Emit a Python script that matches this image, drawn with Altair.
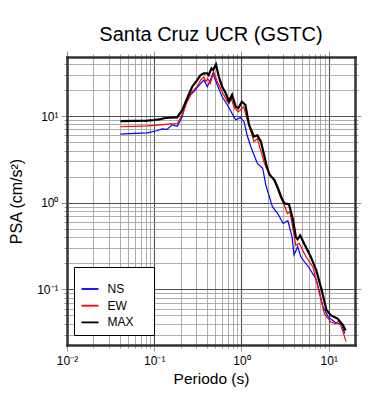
import altair as alt
import pandas as pd

SERIES = ["NS", "EW", "MAX"]
COLORS = ["#0000ff", "#ff0000", "#000000"]

NS_T = [0.041, 0.06, 0.083, 0.107, 0.123, 0.14, 0.16, 0.184, 0.209, 0.226, 0.26, 0.295, 0.34,
        0.37, 0.405, 0.44, 0.47, 0.53, 0.6, 0.69, 0.78, 0.86, 0.97, 1.07, 1.16, 1.28, 1.52,
        1.75, 1.9, 2.26, 2.6, 3.0, 3.4, 3.8, 4.0, 4.4, 4.8, 5.9, 7.2, 8.6, 9.9, 11.7, 14.0, 15.3]
NS_V = [6.2, 6.3, 6.4, 6.77, 7.1, 7.0, 7.9, 7.6, 9.8, 13.4, 17.5, 19.9, 23.8,
        26.0, 21.8, 26.0, 31.0, 22.7, 16.7, 13.4, 10.7, 9.0, 9.6, 8.6, 6.0, 4.43, 2.84,
        2.5, 1.6, 0.9, 0.75, 0.575, 0.62, 0.4, 0.25, 0.31, 0.236, 0.18, 0.13, 0.063, 0.048,
        0.042, 0.039, 0.031]

EW_T = [0.041, 0.083, 0.118, 0.154, 0.184, 0.209, 0.238, 0.272, 0.31, 0.34, 0.37, 0.39, 0.41,
        0.44, 0.48, 0.53, 0.6, 0.69, 0.75, 0.83, 0.92, 1.06, 1.17, 1.39, 1.52, 1.83, 2.1,
        2.38, 2.84, 3.1, 3.35, 3.6, 4.2, 4.6, 5.5, 6.6, 7.5, 8.9, 10.6, 12.0, 13.2, 15.8]
EW_V = [7.52, 7.7, 7.9, 8.1, 8.2, 10.3, 14.6, 19.1, 21.8, 26.0, 28.4, 24.9, 27.2,
        23.8, 32.4, 24.9, 19.1, 14.6, 16.7, 12.3, 11.2, 12.8, 9.0, 5.05, 5.5, 2.84, 2.09,
        1.83, 1.12, 0.94, 0.75, 0.78, 0.32, 0.34, 0.236, 0.18, 0.107, 0.0525, 0.042, 0.040,
        0.044, 0.0249]

MAX_T = [0.041, 0.06, 0.083, 0.1, 0.118, 0.134, 0.155, 0.183, 0.209, 0.238, 0.272, 0.31, 0.34,
         0.37, 0.405, 0.42, 0.453, 0.473, 0.51, 0.55, 0.6, 0.66, 0.72, 0.78, 0.86, 0.92, 1.01,
         1.11, 1.22, 1.39, 1.52, 1.67, 1.8, 1.95, 2.1, 2.38, 2.6, 2.84, 3.1, 3.5, 3.9, 4.2,
         4.4, 4.7, 5.2, 6.2, 7.2, 8.3, 9.4, 10.6, 12.6, 14.5, 15.6]
MAX_V = [8.75, 8.8, 8.85, 9.0, 9.2, 9.5, 9.6, 9.66, 11.7, 16.0, 21.8, 26.0, 29.7,
         31.1, 31.1, 29.7, 35.5, 34.0, 39.5, 28.4, 21.8, 18.3, 14.6, 17.5, 12.8, 12.3, 14.6,
         13.4, 7.9, 5.8, 6.0, 5.05, 3.7, 2.6, 2.1, 1.83, 1.5, 1.18, 0.98, 0.96, 0.63, 0.40,
         0.38, 0.42, 0.34, 0.24, 0.166, 0.098, 0.058, 0.05, 0.046, 0.039, 0.0336]

X_TICKS = [0.01, 0.02, 0.03, 0.04, 0.05, 0.06, 0.07, 0.08, 0.09,
           0.1, 0.2, 0.3, 0.4, 0.5, 0.6, 0.7, 0.8, 0.9,
           1, 2, 3, 4, 5, 6, 7, 8, 9, 10]
Y_TICKS = [0.03, 0.04, 0.05, 0.06, 0.07, 0.08, 0.09,
           0.1, 0.2, 0.3, 0.4, 0.5, 0.6, 0.7, 0.8, 0.9,
           1, 2, 3, 4, 5, 6, 7, 8, 9, 10, 20, 30, 40]
X_DECADES = [0.01, 0.1, 1, 10]
Y_DECADES = [0.1, 1, 10]

rows = []
for name, ts, vs in (("NS", NS_T, NS_V), ("EW", EW_T, EW_V), ("MAX", MAX_T, MAX_V)):
    for t, v in zip(ts, vs):
        rows.append({"series": name, "period": t, "psa": v})
df = pd.DataFrame(rows)

FONT = "Liberation Sans"
FRAME = "#333333"
xs = alt.Scale(type="log", domain=[0.01, 20], nice=False)
ys = alt.Scale(type="log", domain=[0.0228, 48], nice=False)

DEC = "abs(log(datum.value)/LN10 - round(log(datum.value)/LN10)) < 0.000001"


def cond(a, b):
    return {"condition": {"test": DEC, "value": a}, "value": b}


def ax(**kw):
    d = dict(grid=False, ticks=False, labels=False, domain=False, title=None)
    d.update(kw)
    return alt.Axis(**d)


LBL = ("datum.value < 0.05 ? '10\u207b\u00b2' : datum.value < 0.5 ? '10\u207b\u00b9' : "
       "datum.value < 5 ? '10\u2070' : '10\u00b9'")

LEGEND_SPACER = "\u2060" + "\u00a0" * 40 + "\u2060"

base = alt.Chart(df)

grid_layer = base.mark_line(strokeOpacity=0).encode(
    x=alt.X("period:Q", scale=xs, axis=ax(orient="bottom", grid=True, values=X_TICKS[1:],
                                          gridColor=cond("#505050", "#999999"),
                                          gridWidth=cond(1.1, 0.8))),
    y=alt.Y("psa:Q", scale=ys, axis=ax(orient="left", grid=True, values=Y_TICKS,
                                       gridColor=cond("#505050", "#999999"),
                                       gridWidth=cond(1.1, 0.8))),
    detail="series:N",
)

color_enc = alt.Color(
    "series:N",
    scale=alt.Scale(domain=SERIES, range=COLORS),
    legend=alt.Legend(
        title=LEGEND_SPACER, titleFontSize=6, titlePadding=0, titleFont=FONT,
        orient="none", legendX=7, legendY=210, padding=6.5,
        symbolType="stroke", symbolSize=289, symbolStrokeWidth=1.8,
        labelFont=FONT, labelFontSize=12, labelOffset=8, rowPadding=0.7,
        fillColor="white", strokeColor="black",
    ),
)


def series_line(name, w):
    return base.transform_filter(alt.datum.series == name).mark_line(strokeWidth=w).encode(
        x=alt.X("period:Q", scale=xs, axis=None),
        y=alt.Y("psa:Q", scale=ys, axis=None),
        color=color_enc,
    )


ns = series_line("NS", 1.2)
ew = series_line("EW", 1.2)
mx = series_line("MAX", 2.2)


def tick_layer(xo, yo):
    return base.mark_line(strokeOpacity=0).encode(
        x=alt.X("period:Q", scale=xs, axis=ax(orient=xo, ticks=True, values=X_TICKS,
                                              tickSize=cond(6, 3), tickColor="#999999",
                                              tickWidth=1)),
        y=alt.Y("psa:Q", scale=ys, axis=ax(orient=yo, ticks=True, values=Y_TICKS,
                                           tickSize=cond(6, 3), tickColor="#999999",
                                           tickWidth=1)),
        detail="series:N",
    )


tick_bl = tick_layer("bottom", "left")
tick_tr = tick_layer("top", "right")

frame_bl = base.mark_line(strokeOpacity=0).encode(
    x=alt.X("period:Q", scale=xs, axis=ax(
        orient="bottom", domain=True, domainColor=FRAME, domainWidth=2.5, domainCap="square",
        labels=True, values=X_DECADES, labelExpr=LBL, labelFont=FONT, labelFontSize=12,
        labelColor="black", labelPadding=10, labelFlush=False, labelOverlap=False,
        title="Periodo (s)", titleFont=FONT, titleFontSize=15.5, titleFontWeight="normal",
        titleColor="black", titlePadding=5, zindex=1)),
    y=alt.Y("psa:Q", scale=ys, axis=ax(
        orient="left", domain=True, domainColor=FRAME, domainWidth=2.5, domainCap="square",
        labels=True, values=Y_DECADES, labelExpr=LBL, labelFont=FONT, labelFontSize=12,
        labelColor="black", labelPadding=9, labelFlush=False, labelOverlap=False,
        title="PSA (cm/s\u00b2)", titleFont=FONT, titleFontSize=16, titleFontWeight="normal",
        titleColor="black", titlePadding=12, zindex=1)),
    detail="series:N",
)

frame_tr = base.mark_line(strokeOpacity=0).encode(
    x=alt.X("period:Q", scale=xs, axis=ax(orient="top", domain=True, domainColor=FRAME,
                                          domainWidth=2.5, domainCap="square", zindex=1)),
    y=alt.Y("psa:Q", scale=ys, axis=ax(orient="right", domain=True, domainColor=FRAME,
                                       domainWidth=2.5, domainCap="square", zindex=1)),
    detail="series:N",
)

chart = alt.layer(
    grid_layer, ns, ew, mx, tick_bl, tick_tr, frame_bl, frame_tr
).resolve_axis(
    x="independent", y="independent"
).properties(
    width=288,
    height=288,
    title=alt.TitleParams("Santa Cruz UCR (GSTC)", font=FONT, fontSize=20,
                          fontWeight="normal", anchor="middle", baseline="alphabetic",
                          offset=-10, color="black"),
    padding={"left": 59, "top": 49, "right": 27, "bottom": 47},
    autosize=alt.AutoSizeParams(type="none"),
).configure_view(stroke=None)

chart.save("out.html", embed_options={"renderer": "svg", "actions": False})
